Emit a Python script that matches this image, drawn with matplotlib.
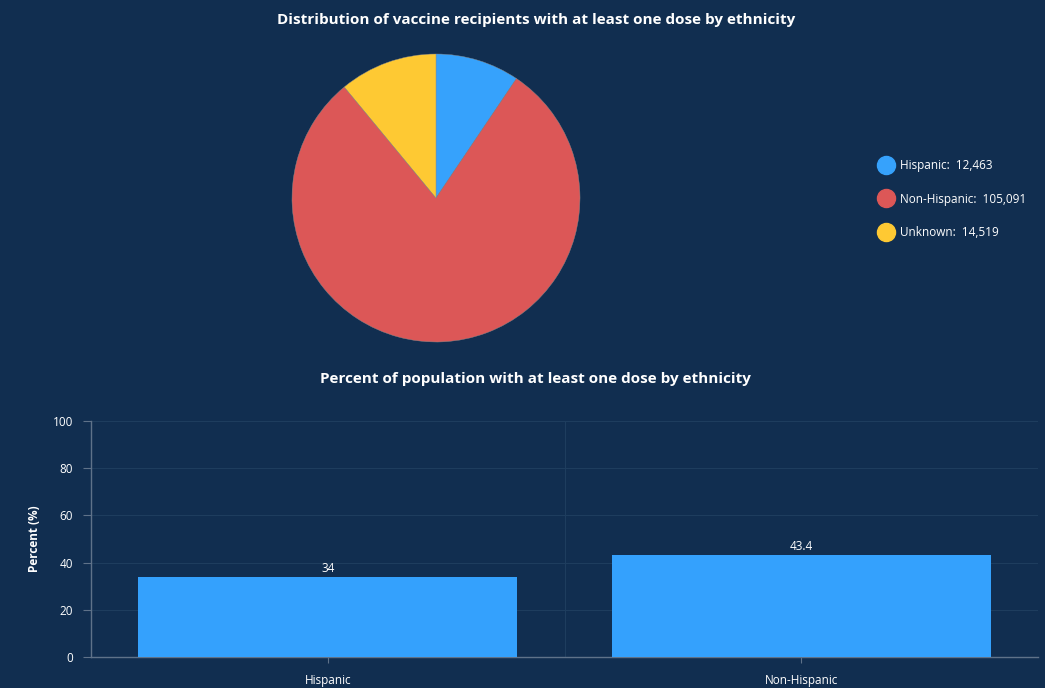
import matplotlib.pyplot as plt
from matplotlib.lines import Line2D

# ===== DATA =====
eth_labels = ['Hispanic', 'Non-Hispanic', 'Unknown']
eth_counts = [12463, 105091, 14519]
pie_colors = ['#36a2fc', '#dc5757', '#fec933']

bar_labels = ['Hispanic', 'Non-Hispanic']
bar_values = [34, 43.4]

BG = '#112e50'
GRID = '#1e3d5e'
AXIS = '#5f7289'
TXT = '#ffffff'

plt.rcParams['font.family'] = ['Open Sans', 'DejaVu Sans']

fig = plt.figure(figsize=(10.45, 6.88), dpi=100)
fig.patch.set_facecolor(BG)

W, H = 1045, 688

# ===== PIE =====
cx, cy, r = 436, 198, 144
axp = fig.add_axes([(cx - r) / W, 1 - (cy + r) / H, 2 * r / W, 2 * r / H])
axp.set_facecolor(BG)
axp.pie(eth_counts, colors=pie_colors, startangle=90, counterclock=False,
        radius=1, wedgeprops=dict(linewidth=0.3, edgecolor='#8a8a8a'))
axp.set_xlim(-1, 1)
axp.set_ylim(-1, 1)
axp.set_aspect('auto')
axp.axis('off')

fig.text(536 / W, 1 - 20 / H,
         'Distribution of vaccine recipients with at least one dose by ethnicity',
         ha='center', va='center', color=TXT, fontsize=11, fontweight='bold')

# legend entries
handles = [Line2D([0], [0], marker='o', color='none', markerfacecolor=c,
                  markeredgecolor=c, markersize=13) for c in pie_colors]
labels = [f'{l}:  {v:,}' for l, v in zip(eth_labels, eth_counts)]
fig.legend(handles, labels, loc='center left', bbox_to_anchor=(878 / W, 1 - 199 / H),
           frameon=False, labelcolor=TXT, fontsize=8.5, labelspacing=1.75,
           handletextpad=0.45, handlelength=1.4, borderaxespad=0, borderpad=0)

# ===== BAR =====
axb = fig.add_axes([91 / W, 1 - 657 / H, (1038 - 91) / W, (657 - 421) / H])
axb.set_facecolor(BG)
x = range(len(bar_labels))
bars = axb.bar(x, bar_values, width=0.8, color='#34a1fd', zorder=3)
for b, v in zip(bars, bar_values):
    axb.text(b.get_x() + b.get_width() / 2, v + 0.6, f'{v:g}', ha='center', va='bottom',
             color=TXT, fontsize=8.5)

axb.set_xlim(-0.5, len(bar_labels) - 0.5)
axb.set_ylim(0, 100)
axb.set_yticks(range(0, 101, 20))
axb.set_xticks(list(x))
axb.set_xticklabels(bar_labels)
axb.set_xticks([0.5], minor=True)
axb.grid(axis='y', color=GRID, lw=0.8, zorder=0)
axb.grid(axis='x', which='minor', color=GRID, lw=0.8, zorder=0)
axb.tick_params(axis='x', which='minor', length=0)
axb.tick_params(axis='x', colors=AXIS, labelcolor=TXT, labelsize=8.5, length=4, pad=8)
axb.tick_params(axis='y', colors=AXIS, labelcolor=TXT, labelsize=8.5, length=6, pad=7)
for s in ['top', 'right']:
    axb.spines[s].set_visible(False)
for s in ['left', 'bottom']:
    axb.spines[s].set_color(AXIS)
    axb.spines[s].set_linewidth(1)
axb.set_ylabel('Percent (%)', color=TXT, fontsize=8.5, fontweight='bold', labelpad=8)

fig.text(535 / W, 1 - 379 / H, 'Percent of population with at least one dose by ethnicity',
         ha='center', va='center', color=TXT, fontsize=11, fontweight='bold')

plt.savefig('out.png', dpi=100, facecolor=BG)
